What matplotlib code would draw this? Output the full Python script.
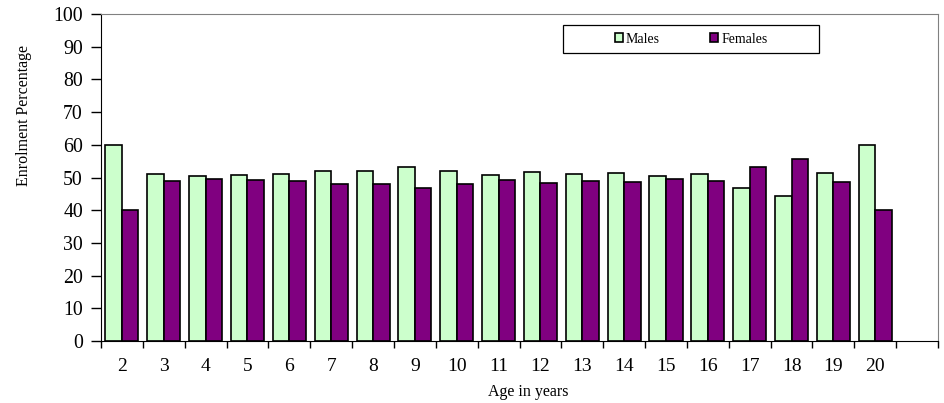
import numpy as np
import matplotlib; matplotlib.use("Agg"); import matplotlib.pyplot as plt
from matplotlib.patches import Rectangle

plt.rcParams["font.family"] = ["Liberation Serif", "DejaVu Serif"]

ages = ["2","3","4","5","6","7","8","9","10","11","12","13","14","15","16","17","18","19","20"]
males   = [60.0,51.0,50.5,50.7,51.1,52.0,52.1,53.3,52.0,50.8,51.7,51.1,51.5,50.5,51.1,46.8,44.4,51.4,60.0]
females = [40.0,49.0,49.5,49.3,48.9,48.0,47.9,46.7,48.0,49.2,48.3,48.9,48.5,49.5,48.9,53.2,55.6,48.6,40.0]

fig = plt.figure(figsize=(9.45,4.03), dpi=100)
ax = fig.add_axes([0.1069,0.1538,0.9926-0.1069,0.9653-0.1538])

x = np.arange(len(ages)); w = 0.395
ax.bar(x-w/2, males, w, color="#ccffcc", edgecolor="black", lw=1.2, label="Males")
ax.bar(x+w/2, females, w, color="#800080", edgecolor="black", lw=1.2, label="Females")

# one empty category slot after 20
ax.set_xlim(-0.5, len(ages)+0.5); ax.set_ylim(0,100)
ax.set_yticks(range(0,101,10))
ax.set_xticks(np.arange(-0.5, len(ages)+1, 1))
ax.set_xticklabels([])
ax.set_xticks(x, minor=True); ax.set_xticklabels(ages, minor=True)
ax.tick_params(axis="x", which="major", direction="out", length=5, width=1)
ax.tick_params(axis="x", which="minor", length=0, pad=12, labelsize=14)
ax.tick_params(axis="y", direction="out", length=7, width=1, pad=6, labelsize=14.3)
for s in ("top","right"): ax.spines[s].set_color("#808080")

ax.set_xlabel("Age in years", fontsize=11.5)
ax.xaxis.set_label_coords(0.510, -0.132)
ax.set_ylabel("Enrolment Percentage", fontsize=11.5)
ax.yaxis.set_label_coords(-0.082, 0.69)

# legend box
ax.add_patch(Rectangle((0.552,0.881), 0.306, 0.085, transform=ax.transAxes,
                       facecolor="white", edgecolor="black", lw=0.9, zorder=5))
leg = ax.legend(ncol=2, loc="center", bbox_to_anchor=(0.705,0.9235), fontsize=10,
                frameon=False, handlelength=0.6, handleheight=0.6, handletextpad=0.2,
                columnspacing=3.6, borderaxespad=0)
leg.set_zorder(6)

fig.savefig("out.png", dpi=100)
